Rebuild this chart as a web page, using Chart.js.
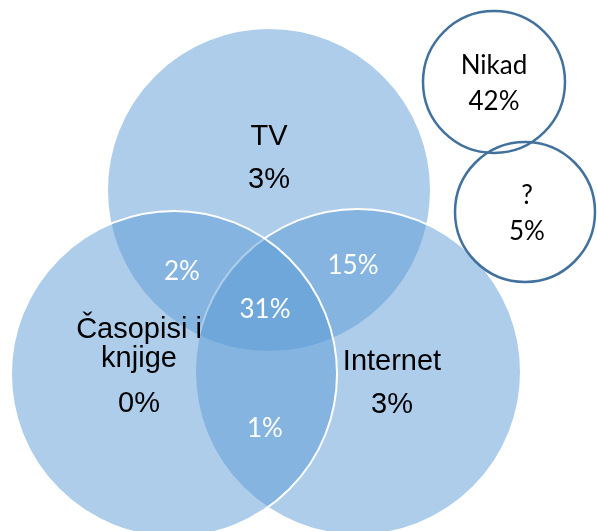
<!DOCTYPE html>
<html>
<head>
<meta charset="utf-8">
<script src="https://cdn.jsdelivr.net/npm/chart.js@4.4.0/dist/chart.umd.min.js"></script>
<style>
  html, body { margin: 0; padding: 0; background: #fff; }
  #wrap { width: 597px; height: 531px; position: relative; }
</style>
</head>
<body>
<div id="wrap"><canvas id="venn"></canvas></div>
<script>
// Venn data: share of respondents per group (%)
const setNames = ['TV', 'Internet', 'Časopisi i\nknjige'];
const setShares = [3, 3, 0];
const overlapNames = ['TV + Časopisi', 'TV + Internet', 'TV + Internet + Časopisi', 'Internet + Časopisi'];
const overlapShares = [2, 15, 31, 1];
const otherNames = ['Nikad', '?'];
const otherShares = [42, 5];

// layout (pixel space, y grows down)
const setCircles = [
    { x: 269, y: 190, r: 162 },   // TV
    { x: 358, y: 372, r: 163 },   // Internet
    { x: 174, y: 374, r: 163 }    // Časopisi i knjige
];
const otherCircles = [
    { x: 494, y: 82, r: 71 },     // Nikad
    { x: 525, y: 212, r: 70 }     // ?
];
const setLabelPos = [
    { x: 269, lines: [145, 188] },
    { x: 392, lines: [370, 413] },
    { x: 139, lines: [338, 367, 412] }
];
const overlapLabelPos = [
    { x: 182, lines: [280] },
    { x: 353, lines: [274] },
    { x: 265, lines: [318] },
    { x: 265, lines: [437] }
];
const otherLabelPos = [
    { x: 494, lines: [74, 110] },
    { x: 527, lines: [204, 240] }
];

const ctx = document.getElementById('venn').getContext('2d');

function drawGroup(chart, names, shares, pos, font, color, showName) {
    const c = chart.ctx;
    const xs = chart.scales.x, ys = chart.scales.y;
    c.save();
    c.font = font;
    c.fillStyle = color;
    c.textAlign = 'center';
    c.textBaseline = 'alphabetic';
    names.forEach((name, i) => {
        const lines = showName ? name.split('\n').concat([shares[i] + '%']) : [shares[i] + '%'];
        lines.forEach((txt, j) => {
            c.fillText(txt, xs.getPixelForValue(pos[i].x), ys.getPixelForValue(pos[i].lines[j]));
        });
    });
    c.restore();
}

const labelPlugin = {
    id: 'vennLabels',
    afterDatasetsDraw(chart) {
        drawGroup(chart, setNames, setShares, setLabelPos, '29px "Liberation Sans", Arial, sans-serif', '#000', true);
        drawGroup(chart, overlapNames, overlapShares, overlapLabelPos, '26px Lato, sans-serif', '#fff', false);
        drawGroup(chart, otherNames, otherShares, otherLabelPos, '26px Lato, sans-serif', '#000', true);
    }
};

new Chart(ctx, {
    type: 'bubble',
    data: {
        datasets: [
            {
                label: 'Skupovi',
                data: setCircles,
                backgroundColor: 'rgba(91, 155, 213, 0.5)',
                borderColor: '#ffffff',
                borderWidth: 2,
                hoverBorderWidth: 2,
                clip: false,
                order: 3
            },
            {
                label: 'Ostalo (pozadina)',
                data: otherCircles,
                backgroundColor: '#ffffff',
                borderWidth: 0,
                clip: false,
                order: 2
            },
            {
                label: 'Ostalo',
                data: otherCircles,
                backgroundColor: 'rgba(0,0,0,0)',
                borderColor: '#41719C',
                borderWidth: 2.5,
                clip: false,
                order: 1
            }
        ]
    },
    options: {
        responsive: true,
        maintainAspectRatio: false,
        animation: false,
        events: [],
        layout: { padding: 0, autoPadding: false },
        plugins: {
            legend: { display: false },
            tooltip: { enabled: false }
        },
        scales: {
            x: { type: 'linear', min: 0, max: 597, display: false },
            y: { type: 'linear', min: 0, max: 531, reverse: true, display: false }
        }
    },
    plugins: [labelPlugin]
});
</script>
</body>
</html>
